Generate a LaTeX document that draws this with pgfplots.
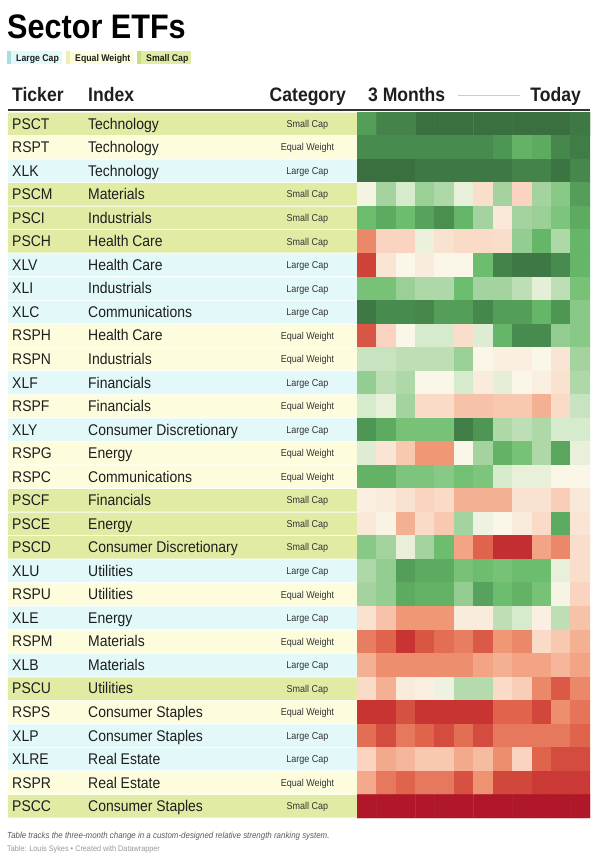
\documentclass[border=0pt]{standalone}
\usepackage{pgfplots}
\pgfplotsset{compat=1.18}
\usepackage{fontspec}
\setmainfont{Liberation Sans}[FakeStretch=0.9]
\definecolor{rowS}{RGB}{226,235,163}
\definecolor{rowE}{RGB}{253,253,222}
\definecolor{rowL}{RGB}{226,248,249}
\definecolor{legS}{RGB}{203,220,124}
\definecolor{legE}{RGB}{239,239,180}
\definecolor{legL}{RGB}{166,223,224}
\definecolor{txt}{RGB}{30,30,30}
\begin{document}
\begin{tikzpicture}
\useasboundingbox (0pt,0pt) rectangle (598pt,-860pt);
\fill[white] (0pt,0pt) rectangle (598pt,-860pt);
% title
\node[anchor=base west, inner sep=0pt, font=\fontsize{34}{40}\selectfont\bfseries] at (7pt,-38pt) {Sector ETFs};
% legend
\fill[rowL] (7pt,-51pt) rectangle (62pt,-64pt);
\fill[legL] (7pt,-51pt) rectangle (11pt,-64pt);
\node[anchor=base west, inner sep=0pt, font=\fontsize{9.7}{11}\selectfont\bfseries, text=txt] at (16pt,-61pt) {Large Cap};
\fill[rowE] (66pt,-51pt) rectangle (134pt,-64pt);
\fill[legE] (66pt,-51pt) rectangle (70pt,-64pt);
\node[anchor=base west, inner sep=0pt, font=\fontsize{9.7}{11}\selectfont\bfseries, text=txt] at (75pt,-61pt) {Equal Weight};
\fill[rowS] (137pt,-51pt) rectangle (191pt,-64pt);
\fill[legS] (137pt,-51pt) rectangle (141pt,-64pt);
\node[anchor=base west, inner sep=0pt, font=\fontsize{9.7}{11}\selectfont\bfseries, text=txt] at (146pt,-61pt) {Small Cap};
% header
\begin{scope}[every node/.style={inner sep=0pt, font=\fontsize{19.5}{22}\selectfont\bfseries, text=txt}]
\node[anchor=base west] at (12pt,-101pt) {Ticker};
\node[anchor=base west] at (88pt,-101pt) {Index};
\node[anchor=base east] at (346pt,-101pt) {Category};
\node[anchor=base west] at (368pt,-101pt) {3 Months};
\node[anchor=base east] at (581pt,-101pt) {Today};
\end{scope}
\draw[black!20, line width=0.8pt] (458pt,-95pt) -- (520pt,-95pt);
% row backgrounds
\begin{axis}[at={(8pt,-112pt)}, anchor=north west, width=349pt, height=706pt,
  scale only axis, hide axis, xmin=0, xmax=1, ymin=0.5, ymax=30.5, y dir=reverse]
\addplot[xbar, bar width=0.957, bar shift=0, fill=rowS, draw=none] coordinates {(1,1) (1,4) (1,5) (1,6) (1,17) (1,18) (1,19) (1,25) (1,30)};
\addplot[xbar, bar width=0.957, bar shift=0, fill=rowE, draw=none] coordinates {(1,2) (1,10) (1,11) (1,13) (1,15) (1,16) (1,21) (1,23) (1,26) (1,29)};
\addplot[xbar, bar width=0.957, bar shift=0, fill=rowL, draw=none] coordinates {(1,3) (1,7) (1,8) (1,9) (1,12) (1,14) (1,20) (1,22) (1,24) (1,27) (1,28)};
\end{axis}
% heatmap
\begin{axis}[at={(357pt,-112pt)}, anchor=north west, width=233pt, height=706pt,
  scale only axis, hide axis, xmin=0.5, xmax=12.5, ymin=0.5, ymax=30.5, y dir=reverse,
  enlargelimits=false,
  colormap={rs}{rgb255=(176,24,42) rgb255=(200,52,50) rgb255=(224,100,76) rgb255=(240,152,118) rgb255=(250,212,192) rgb255=(250,246,232) rgb255=(214,234,204) rgb255=(165,211,160) rgb255=(108,190,110) rgb255=(78,150,84) rgb255=(58,112,64)},
  point meta min=-5, point meta max=5]
\addplot[matrix plot*, mesh/cols=12, point meta=explicit] coordinates {
(1,1) [3.8] (2,1) [4.5] (3,1) [4.5] (4,1) [5] (5,1) [5] (6,1) [5] (7,1) [5] (8,1) [5] (9,1) [5] (10,1) [5] (11,1) [5] (12,1) [4.8]
(1,2) [4.3] (2,2) [4.3] (3,2) [4.3] (4,2) [4.3] (5,2) [4.3] (6,2) [4.3] (7,2) [4.3] (8,2) [4.0] (9,2) [3.3] (10,2) [3.5] (11,2) [4.4] (12,2) [4.7]
(1,3) [5] (2,3) [5] (3,3) [5] (4,3) [4.8] (5,3) [4.8] (6,3) [4.8] (7,3) [4.8] (8,3) [4.8] (9,3) [4.5] (10,3) [4.5] (11,3) [4.9] (12,3) [4.4]
(1,4) [0.2] (2,4) [2] (3,4) [1] (4,4) [2.2] (5,4) [1.8] (6,4) [0.5] (7,4) [-0.7] (8,4) [2] (9,4) [-1] (10,4) [2] (11,4) [2.5] (12,4) [3.8]
(1,5) [3] (2,5) [3.5] (3,5) [3] (4,5) [3.7] (5,5) [4.2] (6,5) [3.2] (7,5) [2] (8,5) [-0.4] (9,5) [2] (10,5) [2.2] (11,5) [2.7] (12,5) [3.5]
(1,6) [-2.3] (2,6) [-1] (3,6) [-1] (4,6) [0.4] (5,6) [-0.6] (6,6) [-0.8] (7,6) [-0.8] (8,6) [-0.7] (9,6) [2.3] (10,6) [3.2] (11,6) [1.8] (12,6) [3.2]
(1,7) [-3.7] (2,7) [-0.5] (3,7) [0] (4,7) [-0.3] (5,7) [0] (6,7) [0] (7,7) [3] (8,7) [4.5] (9,7) [4.8] (10,7) [4.8] (11,7) [4.3] (12,7) [3.2]
(1,8) [2.8] (2,8) [2.8] (3,8) [2.2] (4,8) [1.8] (5,8) [1.8] (6,8) [3] (7,8) [2] (8,8) [2] (9,8) [1.5] (10,8) [0.6] (11,8) [1.5] (12,8) [2.8]
(1,9) [4.8] (2,9) [4.3] (3,9) [4.3] (4,9) [4.4] (5,9) [3.8] (6,9) [3.8] (7,9) [4.4] (8,9) [3.8] (9,9) [3.8] (10,9) [3.2] (11,9) [4] (12,9) [2.5]
(1,10) [-3.3] (2,10) [-1] (3,10) [0] (4,10) [1] (5,10) [1] (6,10) [-0.7] (7,10) [0.8] (8,10) [3.2] (9,10) [4.3] (10,10) [4.3] (11,10) [2.3] (12,10) [2.5]
(1,11) [1.3] (2,11) [1.3] (3,11) [1.5] (4,11) [1.5] (5,11) [1.5] (6,11) [2.2] (7,11) [0] (8,11) [-0.2] (9,11) [-0.2] (10,11) [0] (11,11) [-0.5] (12,11) [2]
(1,12) [2.3] (2,12) [1.5] (3,12) [1.8] (4,12) [0] (5,12) [0] (6,12) [1] (7,12) [-0.3] (8,12) [0.6] (9,12) [0] (10,12) [-0.2] (11,12) [-0.6] (12,12) [1.8]
(1,13) [1] (2,13) [0.5] (3,13) [2] (4,13) [-0.8] (5,13) [-0.8] (6,13) [-1.3] (7,13) [-1.3] (8,13) [-1.2] (9,13) [-1.2] (10,13) [-1.6] (11,13) [-0.8] (12,13) [1.3]
(1,14) [4] (2,14) [3.5] (3,14) [2.8] (4,14) [2.8] (5,14) [2.8] (6,14) [4.6] (7,14) [4] (8,14) [1.8] (9,14) [1.5] (10,14) [1.8] (11,14) [1] (12,14) [1]
(1,15) [0.8] (2,15) [-0.5] (3,15) [-1.2] (4,15) [-2] (5,15) [-2] (6,15) [0] (7,15) [2] (8,15) [3.3] (9,15) [2.8] (10,15) [1.8] (11,15) [3.6] (12,15) [0.5]
(1,16) [3.3] (2,16) [3.3] (3,16) [2.7] (4,16) [2.7] (5,16) [2.5] (6,16) [2.9] (7,16) [2.7] (8,16) [1] (9,16) [0.5] (10,16) [0.5] (11,16) [0] (12,16) [0]
(1,17) [-0.2] (2,17) [-0.3] (3,17) [-0.6] (4,17) [-1] (5,17) [-0.8] (6,17) [-1.6] (7,17) [-1.6] (8,17) [-1.6] (9,17) [-0.6] (10,17) [-0.6] (11,17) [-1.1] (12,17) [-0.4]
(1,18) [-0.4] (2,18) [-0.1] (3,18) [-1.6] (4,18) [-0.8] (5,18) [-1.2] (6,18) [2] (7,18) [0.3] (8,18) [0] (9,18) [-0.3] (10,18) [-0.8] (11,18) [3.5] (12,18) [-0.5]
(1,19) [2.5] (2,19) [2] (3,19) [0.5] (4,19) [2] (5,19) [3] (6,19) [-1.8] (7,19) [-3] (8,19) [-4.2] (9,19) [-4.2] (10,19) [-1.8] (11,19) [-2.3] (12,19) [-0.7]
(1,20) [1.8] (2,20) [2.3] (3,20) [3.8] (4,20) [3.5] (5,20) [3.5] (6,20) [2.8] (7,20) [3] (8,20) [2.8] (9,20) [3] (10,20) [3] (11,20) [0.5] (12,20) [-0.7]
(1,21) [2] (2,21) [2.3] (3,21) [3.5] (4,21) [3.3] (5,21) [3.3] (6,21) [2.3] (7,21) [3.7] (8,21) [3] (9,21) [3.3] (10,21) [2.8] (11,21) [0.1] (12,21) [-1]
(1,22) [-0.6] (2,22) [-1.3] (3,22) [-2] (4,22) [-2] (5,22) [-2] (6,22) [-0.3] (7,22) [-0.3] (8,22) [1.5] (9,22) [1] (10,22) [-0.2] (11,22) [1.5] (12,22) [-1.3]
(1,23) [-2.5] (2,23) [-3] (3,23) [-4] (4,23) [-3.3] (5,23) [-2.8] (6,23) [-2.5] (7,23) [-3.2] (8,23) [-2] (9,23) [-2.3] (10,23) [-0.8] (11,23) [-1.2] (12,23) [-1.6]
(1,24) [-1.6] (2,24) [-2.2] (3,24) [-2.2] (4,24) [-2.2] (5,24) [-2.2] (6,24) [-2.2] (7,24) [-1.8] (8,24) [-1.6] (9,24) [-1.8] (10,24) [-1.8] (11,24) [-1.5] (12,24) [-1.8]
(1,25) [-0.8] (2,25) [-1.6] (3,25) [-0.3] (4,25) [-0.2] (5,25) [0.3] (6,25) [1.7] (7,25) [1.7] (8,25) [-0.8] (9,25) [-1.1] (10,25) [-2.3] (11,25) [-3.2] (12,25) [-2.3]
(1,26) [-4] (2,26) [-4] (3,26) [-3.4] (4,26) [-4] (5,26) [-4] (6,26) [-4] (7,26) [-4] (8,26) [-3] (9,26) [-3] (10,26) [-3.6] (11,26) [-2.2] (12,26) [-2.7]
(1,27) [-2.8] (2,27) [-3.5] (3,27) [-2.6] (4,27) [-3] (5,27) [-3.5] (6,27) [-2.8] (7,27) [-3.5] (8,27) [-2.6] (9,27) [-2.6] (10,27) [-2.6] (11,27) [-2.6] (12,27) [-3]
(1,28) [-1] (2,28) [-1.7] (3,28) [-1.5] (4,28) [-1.2] (5,28) [-1.2] (6,28) [-1.7] (7,28) [-1.4] (8,28) [-2.2] (9,28) [-1] (10,28) [-3] (11,28) [-3.5] (12,28) [-3.5]
(1,29) [-1.7] (2,29) [-2.6] (3,29) [-3] (4,29) [-2.6] (5,29) [-2.6] (6,29) [-3.4] (7,29) [-2.1] (8,29) [-3.6] (9,29) [-3.6] (10,29) [-3.9] (11,29) [-3.9] (12,29) [-3.9]
(1,30) [-5] (2,30) [-5] (3,30) [-5] (4,30) [-5] (5,30) [-5] (6,30) [-5] (7,30) [-5] (8,30) [-5] (9,30) [-5] (10,30) [-5] (11,30) [-5] (12,30) [-5]
};
\end{axis}
\draw[black!80, line width=2pt] (8pt,-110pt) -- (590pt,-110pt);
% row texts
\foreach \tk/\ix/\ct [count=\n] in {PSCT/Technology/Small Cap, RSPT/Technology/Equal Weight, XLK/Technology/Large Cap, PSCM/Materials/Small Cap, PSCI/Industrials/Small Cap, PSCH/Health Care/Small Cap, XLV/Health Care/Large Cap, XLI/Industrials/Large Cap, XLC/Communications/Large Cap, RSPH/Health Care/Equal Weight, RSPN/Industrials/Equal Weight, XLF/Financials/Large Cap, RSPF/Financials/Equal Weight, XLY/Consumer Discretionary/Large Cap, RSPG/Energy/Equal Weight, RSPC/Communications/Equal Weight, PSCF/Financials/Small Cap, PSCE/Energy/Small Cap, PSCD/Consumer Discretionary/Small Cap, XLU/Utilities/Large Cap, RSPU/Utilities/Equal Weight, XLE/Energy/Large Cap, RSPM/Materials/Equal Weight, XLB/Materials/Large Cap, PSCU/Utilities/Small Cap, RSPS/Consumer Staples/Equal Weight, XLP/Consumer Staples/Large Cap, XLRE/Real Estate/Large Cap, RSPR/Real Estate/Equal Weight, PSCC/Consumer Staples/Small Cap} {
  \pgfmathsetmacro\yb{-(112+23.533*(\n-0.5)+5.4)}
  \pgfmathsetmacro\yc{-(112+23.533*(\n-0.5)+3.6)}
  \node[anchor=base west, inner sep=0pt, font=\fontsize{15.5}{18}\selectfont, text=txt] at (12pt,\yb pt) {\tk};
  \node[anchor=base west, inner sep=0pt, font=\fontsize{15.5}{18}\selectfont, text=txt] at (88pt,\yb pt) {\ix};
  \node[anchor=base, inner sep=0pt, font=\fontsize{10}{12}\selectfont, text=black!80] at (307.5pt,\yc pt) {\ct};
}
% footer
\node[anchor=base west, inner sep=0pt, font=\fontsize{8.8}{10}\selectfont\itshape, text=black!65] at (7pt,-838pt) {Table tracks the three-month change in a custom-designed relative strength ranking system.};
\node[anchor=base west, inner sep=0pt, font=\fontsize{8.1}{9}\selectfont, text=black!40] at (7pt,-851pt) {Table: Louis Sykes • Created with Datawrapper};
\end{tikzpicture}
\end{document}
